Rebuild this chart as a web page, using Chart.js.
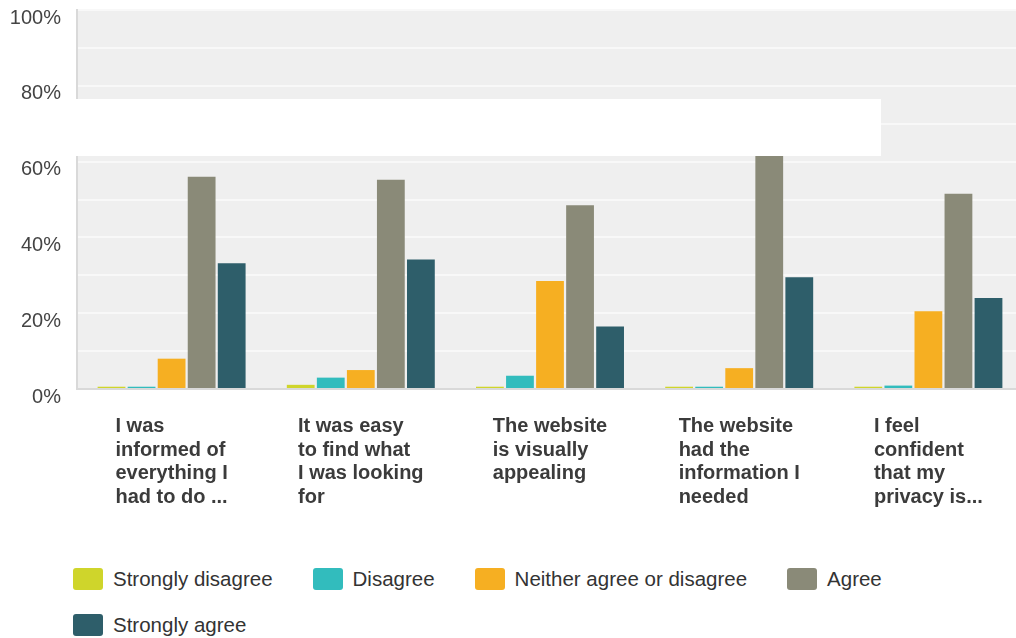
<!DOCTYPE html>
<html>
<head>
<meta charset="utf-8">
<title>Survey responses</title>
<script src="https://cdn.jsdelivr.net/npm/chart.js@4"></script>
<style>
  html, body { margin: 0; padding: 0; background: #fff; overflow: hidden; width: 1016px; height: 638px; }
  #wrap { position: absolute; left: 0; top: 0; width: 1023px; height: 540px; }
  #legend {
    position: absolute; left: 73px; top: 568px; width: 940px;
    display: flex; flex-wrap: wrap; column-gap: 40px; row-gap: 24px;
    font: 20.5px "Liberation Sans", Arial, sans-serif; color: #333;
  }
  .item { display: flex; align-items: center; height: 22px; white-space: nowrap; }
  .swatch { width: 30px; height: 22px; border-radius: 3px; margin-right: 10px; }
</style>
</head>
<body>
<div id="wrap"><canvas id="chart"></canvas></div>
<div id="legend"></div>
<script>
// Survey statements (already split into display lines)
const categories = [
  ['I was', 'informed of', 'everything I', 'had to do ...'],
  ['It was easy', 'to find what', 'I was looking', 'for'],
  ['The website', 'is visually', 'appealing'],
  ['The website', 'had the', 'information I', 'needed'],
  ['I feel', 'confident', 'that my', 'privacy is...']
];

const seriesNames = ['Strongly disagree', 'Disagree', 'Neither agree or disagree', 'Agree', 'Strongly agree'];

// Share of respondents (%) per statement
const stronglyDisagree = [0.6, 1.1, 0.6, 0.6, 0.6];
const disagree         = [0.6, 3.0, 3.5, 0.6, 0.9];
const neither          = [8.0, 5.0, 28.5, 5.5, 20.5];
const agree            = [56.0, 55.2, 48.5, 63.0, 51.5];
const stronglyAgree    = [33.2, 34.2, 16.5, 29.5, 24.0];

const yTickLabels = ['0%', '20%', '40%', '60%', '80%', '100%'];

const seriesColors = ['#cfd52b', '#32bcbd', '#f6af22', '#8a8a78', '#2e5e6a'];
const seriesValues = [stronglyDisagree, disagree, neither, agree, stronglyAgree];

// Light grey plotting panel
const panelBackground = {
  id: 'panelBackground',
  beforeDraw(chart) {
    const { ctx, chartArea: a } = chart;
    ctx.save();
    ctx.fillStyle = '#efefef';
    ctx.fillRect(a.left, a.top - 1, a.right - a.left, a.bottom - a.top + 1);
    ctx.restore();
  }
};

// Blank white panel laid over the upper part of the plot
const blankPanel = {
  id: 'blankPanel',
  afterDatasetsDraw(chart) {
    const { ctx } = chart;
    ctx.save();
    ctx.fillStyle = '#ffffff';
    ctx.fillRect(74, 99, 807, 57);
    ctx.restore();
  }
};

// Statement labels: a left-aligned block centred under each group
const statementLabels = {
  id: 'statementLabels',
  afterDraw(chart) {
    const { ctx, chartArea: a } = chart;
    const xs = chart.scales.x;
    ctx.save();
    ctx.font = 'bold 20px "Liberation Sans", Arial, sans-serif';
    ctx.fillStyle = '#3b3b3b';
    ctx.textAlign = 'left';
    ctx.textBaseline = 'alphabetic';
    categories.forEach((lines, i) => {
      const cx = xs.getPixelForValue(i);
      const w = Math.max(...lines.map(l => ctx.measureText(l).width));
      const left = cx - w / 2;
      lines.forEach((line, k) => ctx.fillText(line, left, a.bottom + 43 + k * 23.7));
    });
    ctx.restore();
  }
};

const chart = new Chart(document.getElementById('chart'), {
  type: 'bar',
  data: {
    labels: categories,
    datasets: seriesNames.map((name, i) => ({
      label: name,
      data: seriesValues[i],
      backgroundColor: seriesColors[i],
      borderWidth: 0,
      categoryPercentage: 0.794,
      barPercentage: 0.925
    }))
  },
  options: {
    responsive: true,
    maintainAspectRatio: false,
    animation: false,
    layout: { padding: { top: 10, left: 0, right: 0, bottom: 0 } },
    plugins: { legend: { display: false }, tooltip: { enabled: false } },
    scales: {
      x: {
        grid: { display: false, drawTicks: false },
        border: { display: true, color: '#d9d9d9', width: 2 },
        ticks: { display: false },
        afterFit(scale) {
          scale.height = 151;
          scale.paddingLeft = 0;
          scale.paddingRight = 0;
        }
      },
      y: {
        min: 0,
        max: 100,
        grid: {
          drawTicks: false,
          color: c => (c.tick && c.tick.value === 0) ? 'rgba(0,0,0,0)' : '#f8f8f8',
          lineWidth: 2
        },
        border: { display: true, color: '#d9d9d9', width: 2 },
        ticks: {
          stepSize: 10,
          padding: 16,
          labelOffset: 8,
          color: '#444',
          font: { family: '"Liberation Sans", Arial, sans-serif', size: 20 },
          callback: v => (v % 20 === 0) ? yTickLabels[v / 20] : ''
        },
        afterFit(scale) {
          scale.width = 77;
          scale.paddingTop = 0;
          scale.paddingBottom = 0;
        }
      }
    }
  },
  plugins: [panelBackground, blankPanel, statementLabels]
});

// Legend built from the chart's datasets
const legendEl = document.getElementById('legend');
chart.data.datasets.forEach(ds => {
  const item = document.createElement('div');
  item.className = 'item';
  const sw = document.createElement('span');
  sw.className = 'swatch';
  sw.style.background = ds.backgroundColor;
  const txt = document.createElement('span');
  txt.textContent = ds.label;
  item.appendChild(sw);
  item.appendChild(txt);
  legendEl.appendChild(item);
});
</script>
</body>
</html>
